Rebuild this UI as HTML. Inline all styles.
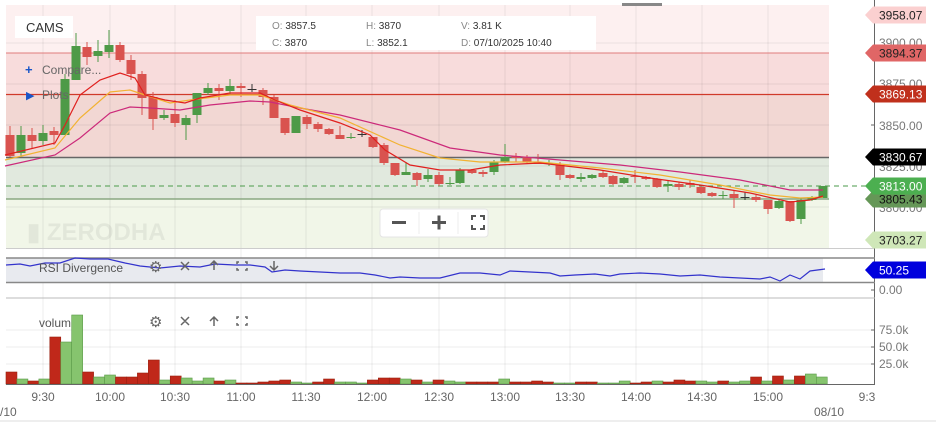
<!DOCTYPE html>
<html><head><meta charset="utf-8"><style>
body{margin:0;background:#fff;width:936px;height:425px;overflow:hidden;font-family:"Liberation Sans",sans-serif}
svg{display:block}
text{font-family:"Liberation Sans",sans-serif}
</style></head><body>
<svg id="s" width="936" height="425" xmlns="http://www.w3.org/2000/svg">
<rect width="936" height="425" fill="#fff"/>
<rect x="6" y="5" width="823" height="48" fill="#fdf0f0"/>
<rect x="6" y="53" width="823" height="41" fill="#f8dcdc"/>
<rect x="6" y="94" width="823" height="63" fill="#f2d7d3"/>
<rect x="6" y="157" width="823" height="42" fill="#e1e9de"/>
<rect x="6" y="199" width="823" height="49" fill="#f1f6e8"/>
<g id="grid" stroke="#000" stroke-opacity="0.07" stroke-width="1"></g>
<line x1="6" y1="53" x2="829" y2="53" stroke="#e07b7b" stroke-width="1"/>
<line x1="6" y1="94.5" x2="829" y2="94.5" stroke="#d03a2a" stroke-width="1.2"/>
<line x1="6" y1="157.5" x2="829" y2="157.5" stroke="#666" stroke-width="1.5"/>
<line x1="6" y1="199" x2="829" y2="199" stroke="#8aa882" stroke-width="1.5"/>
<line x1="6" y1="186" x2="870" y2="186" stroke="#4a9a4a" stroke-width="1" stroke-dasharray="5,4"/>
<line x1="6" y1="248.5" x2="875" y2="248.5" stroke="#ccc"/>
<text x="27" y="240" font-size="24" fill="#000" fill-opacity="0.06" font-weight="bold">▮ ZERODHA</text>
<g id="cand"></g>
<polyline fill="none" stroke="#cc2a7a" stroke-width="1.2" points="5,166 55,155 80,138 110,113 130,107 150,108 180,110 210,105 250,101 270,102 300,108 340,115 400,130 450,148 500,155 560,160 620,165 680,172 740,180 790,190 823,190"/>
<polyline fill="none" stroke="#f2b232" stroke-width="1.2" points="5,160 55,148 80,118 110,92 130,90 145,95 170,103 190,100 230,95 260,95 290,105 340,118 400,145 440,158 480,162 540,162 600,168 660,175 720,185 770,195 800,198 823,197"/>
<polyline fill="none" stroke="#e0201e" stroke-width="1.2" points="5,155 55,143 65,125 80,95 100,80 120,73 135,78 145,95 165,100 185,103 200,98 230,93 260,93 275,100 300,110 340,123 370,135 385,150 410,165 440,170 470,170 500,165 540,163 600,170 650,178 700,185 750,193 790,202 810,200 823,196"/>
<rect x="15" y="16" width="58" height="22" fill="#fff"/>
<text x="26" y="32" font-size="13" fill="#333">CAMS</text>
<text x="25" y="74" font-size="13" fill="#1a56c8" font-weight="bold">+</text>
<text x="42" y="74" font-size="12" fill="#666">Compare...</text>
<text x="26" y="99" font-size="11" fill="#1a56c8">▶</text>
<text x="42" y="99" font-size="12" fill="#666">Plots</text>
<rect x="256" y="16" width="340" height="34" fill="#fff"/>
<g font-size="10" fill="#333"><text x="272" y="29"><tspan fill="#888">O:</tspan> 3857.5</text><text x="366" y="29"><tspan fill="#888">H:</tspan> 3870</text><text x="461" y="29"><tspan fill="#888">V:</tspan> 3.81 K</text>
<text x="272" y="46"><tspan fill="#888">C:</tspan> 3870</text><text x="366" y="46"><tspan fill="#888">L:</tspan> 3852.1</text><text x="461" y="46"><tspan fill="#888">D:</tspan> 07/10/2025 10:40</text></g>
<rect x="622" y="3" width="40" height="3" fill="#888"/>
<rect x="380" y="209" width="108" height="28" rx="3" fill="#fff" stroke="#e4e4e4"/>
<line x1="419" y1="212" x2="419" y2="234" stroke="#eee"/><line x1="458" y1="212" x2="458" y2="234" stroke="#eee"/>
<rect x="392" y="221" width="14" height="3" fill="#555"/>
<rect x="432" y="221" width="14" height="3" fill="#555"/><rect x="437.5" y="215.5" width="3" height="14" fill="#555"/>
<path d="M472 220v-4h4M480 216h4v4M484 225v4h-4M476 229h-4v-4" fill="none" stroke="#555" stroke-width="2"/>
<line x1="874.5" y1="0" x2="874.5" y2="385" stroke="#666"/>
<g font-size="12" fill="#777"><text x="879" y="47">3900.00</text><text x="879" y="88">3875.00</text><text x="879" y="130">3850.00</text><text x="879" y="171">3825.00</text><text x="879" y="212">3800.00</text>
<text x="879" y="294">0.00</text><text x="879" y="334">75.0k</text><text x="879" y="351">50.0k</text><text x="879" y="368">25.0k</text></g>
<g stroke="#666"><line x1="871" y1="125" x2="875" y2="125"/><line x1="871" y1="290" x2="875" y2="290"/><line x1="871" y1="330" x2="875" y2="330"/><line x1="871" y1="347" x2="875" y2="347"/><line x1="871" y1="364" x2="875" y2="364"/></g>
<g font-size="12">
<path d="M865 15 l8 -8.5 h53 v17 h-53z" fill="#fbd0d0"/><text x="879" y="19.5" fill="#222">3958.07</text>
<path d="M865 53 l8 -8.5 h53 v17 h-53z" fill="#e06666"/><text x="879" y="57.5" fill="#222">3894.37</text>
<path d="M865 94 l8 -8.5 h53 v17 h-53z" fill="#c0301c"/><text x="879" y="98.5" fill="#fff">3869.13</text>
<path d="M865 157 l8 -8.5 h53 v17 h-53z" fill="#000"/><text x="879" y="161.5" fill="#fff">3830.67</text>
<path d="M865 199 l8 -8.5 h53 v17 h-53z" fill="#659757"/><text x="879" y="203.5" fill="#111">3805.43</text>
<path d="M865 186 l8 -8.5 h53 v17 h-53z" fill="#4caf50"/><text x="879" y="190.5" fill="#fff">3813.00</text>
<path d="M865 240 l8 -8.5 h53 v17 h-53z" fill="#cfe7b8"/><text x="879" y="244.5" fill="#222">3703.27</text>
<path d="M865 270 l8 -8.5 h53 v17 h-53z" fill="#0000dd"/><text x="879" y="274.5" fill="#fff">50.25</text>
</g>
<rect x="6" y="258" width="817" height="24" fill="#e8eaef"/>
<line x1="6" y1="258" x2="875" y2="258" stroke="#888" stroke-width="1.5"/>
<line x1="6" y1="282.5" x2="875" y2="282.5" stroke="#888" stroke-width="1.5"/>
<line x1="6" y1="298" x2="875" y2="298" stroke="#bbb"/>
<polyline fill="none" stroke="#3333cc" stroke-width="1.2" points="6,265 20,264 30,266 45,263 60,263 75,258 90,259 108,259 125,263 140,266 160,268 180,266 200,267 215,264 235,265 250,265 265,267 272,272 285,270 300,271 320,272 340,273 360,273 375,275 390,278 400,277 420,278 440,278 460,273 480,273 500,275 510,271 530,272 550,273 560,276 575,275 595,274 610,276 620,274 640,273 660,274 680,276 700,275 720,277 740,278 760,279 770,277 780,281 790,275 800,279 810,271 825,269"/>
<text x="39" y="272" font-size="12" fill="#555">RSI Divergence</text>
<text x="39" y="327" font-size="12" fill="#555">volume</text>
<g id="vol"></g>
<line x1="6" y1="384.5" x2="875" y2="384.5" stroke="#666"/>
<g fill="none" stroke="#666" stroke-width="1.5">
<path d="M181 262l8 8M189 262l-8 8M214 270v-9M210 265l4-4 4 4M237 264v-2h2M245 262h2v2M247 268v2h-2M239 270h-2v-2M274 261v9M270 266l4 4 4-4"/>
<path d="M181 317l8 8M189 317l-8 8M214 326v-9M210 321l4-4 4 4M237 319v-2h2M245 317h2v2M247 323v2h-2M239 325h-2v-2"/>
</g>
<text x="149" y="272" font-size="15" fill="#666">⚙</text>
<text x="149" y="327" font-size="15" fill="#666">⚙</text>
<g font-size="12" fill="#666" text-anchor="middle">
<text x="43" y="401">9:30</text><text x="110" y="401">10:00</text><text x="175" y="401">10:30</text><text x="241" y="401">11:00</text><text x="306" y="401">11:30</text><text x="372" y="401">12:00</text><text x="439" y="401">12:30</text><text x="505" y="401">13:00</text><text x="570" y="401">13:30</text><text x="636" y="401">14:00</text><text x="702" y="401">14:30</text><text x="768" y="401">15:00</text><text x="867" y="401">9:3</text>
<text x="829" y="416">08/10</text></g>
<text x="0" y="416" font-size="12" fill="#666">/10</text>
<line x1="0" y1="421" x2="936" y2="421" stroke="#ddd"/>
</svg>
<script>
var NS="http://www.w3.org/2000/svg";
function el(p,t,a){var e=document.createElementNS(NS,t);for(var k in a)e.setAttribute(k,a[k]);p.appendChild(e);return e;}
var g=document.getElementById('grid');
[43,110,175,241,306,372,439,505,570,636,702,768].forEach(function(x){el(g,'line',{x1:x,y1:5,x2:x,y2:385});});
[43,84,125,166,207].forEach(function(y){el(g,'line',{x1:6,y1:y,x2:829,y2:y});});
[330,347,364].forEach(function(y){el(g,'line',{x1:6,y1:y,x2:875,y2:y});});
var G="#4e9a47",R="#d9534f";
var c=[[10,135,156,126,157,R],[21,135,153,126,157,G],[32,135,141,128,148,R],[43,133,141,125,145,G],[54,131,135,127,145,R],[65,79,135,74,135,G],[76,46,80,33,80,G],[87,47,57,42,65,R],[98,51,56,40,62,G],[109,45,52,30,58,G],[120,45,60,42,62,R],[131,60,74,55,80,R],[142,74,98,71,115,R],[153,97,119,92,130,R],[164,115,118,110,120,G],[175,114,123,100,127,R],[186,118,125,115,140,G],[197,93,115,93,123,G],[208,88,93,83,95,G],[219,88,91,84,100,R],[230,86,91,79,94,G],[241,86,88,83,97,R],[252,89,89.6,84,92,"#333"],[263,90,97,88,105,R],[274,97,118,95,118,R],[285,118,133,118,135,R],[296,116,133,116,133,G],[307,117,124,115,129,R],[318,124,129,122,132,R],[329,129,134,128,135,R],[340,135,139,126,139,R],[351,137,138,133,139,G],[362,134,134.6,130,137,"#333"],[373,137,147,137,148,R],[384,145,163,143,165,R],[395,163,175,163,176,R],[406,172,175,162,175,G],[417,173,180,172,186,R],[428,175,179,169,182,G],[439,175,184,172,186,R],[450,183,183.8,177,185,G],[460,170,183,168,184,G],[472,170,173,169,174,R],[483,172,174,170,177,R],[494,162,172,160,175,G],[505,157,162,144,163,G],[516,156,158,153,162,R],[527,157,162,155,163,R],[538,162,164,154,164,R],[549,163,163.8,160,166,G],[560,165,175,162,180,R],[570,175,178,174,179,R],[581,177,179,173,182,G],[592,175,178,174,179,G],[603,173,177,171,178,R],[613,176,184,175,185,R],[624,178,183,177,184,G],[635,176,177,170,183,R],[646,177,179,176,180,R],[657,179,187,178,188,R],[668,184,186,181,192,G],[679,184,187,182,190,R],[690,183,185,180,188,R],[701,187,193,186,194,R],[712,193,196,192,197,R],[723,195,195.8,191,199,G],[734,194,198,191,208,R],[745,197,197.8,192,200,"#333"],[756,197,200,195,202,R],[768,200,209,200,214,R],[779,201,208,200,209,G],[790,201,221,201,222,R],[801,200,219,198,224,G],[812,197,200,196,201,G],[823,186,198,186,198,G]];
var cg=document.getElementById('cand');
c.forEach(function(d){el(cg,'line',{x1:d[0],y1:d[3],x2:d[0],y2:d[4],stroke:d[5],'stroke-width':1});el(cg,'rect',{x:d[0]-4.5,y:d[1],width:9,height:Math.max(1,d[2]-d[1]),fill:d[5]});});
var vr="#c0281a",vg="#86c46e";
var v=[[12,0],[5,1],[3,0],[5,1],[47,0],[42,1],[69,1],[12,0],[7,1],[9,1],[7,0],[7,0],[11,0],[24,0],[4,1],[8,0],[6,1],[3,1],[6,1],[3,0],[4,1],[1,0],[1,0],[2,0],[3,0],[4,0],[2,1],[1,1],[2,0],[5,0],[2,1],[2,1],[1,1],[4,0],[6,0],[6,0],[5,1],[4,0],[2,1],[4,0],[3,1],[2,1],[2,0],[2,0],[2,0],[5,1],[2,0],[2,0],[3,0],[2,0],[1,1],[1,1],[2,0],[2,0],[1,1],[1,1],[3,1],[1,0],[2,0],[3,1],[2,0],[4,0],[3,0],[3,1],[2,1],[3,0],[2,1],[3,1],[7,0],[3,1],[8,0],[4,1],[8,0],[10,1],[7,1]];
var vgp=document.getElementById('vol');
v.forEach(function(d,i){var x=6+i*10.95,h=d[0];if(x>822)return;el(vgp,'rect',{x:x,y:384-h,width:10.95,height:h,fill:d[1]?vg:vr,stroke:d[1]?"#5a9a48":"#9a2010",'stroke-width':0.6});});
</script>
</body></html>
